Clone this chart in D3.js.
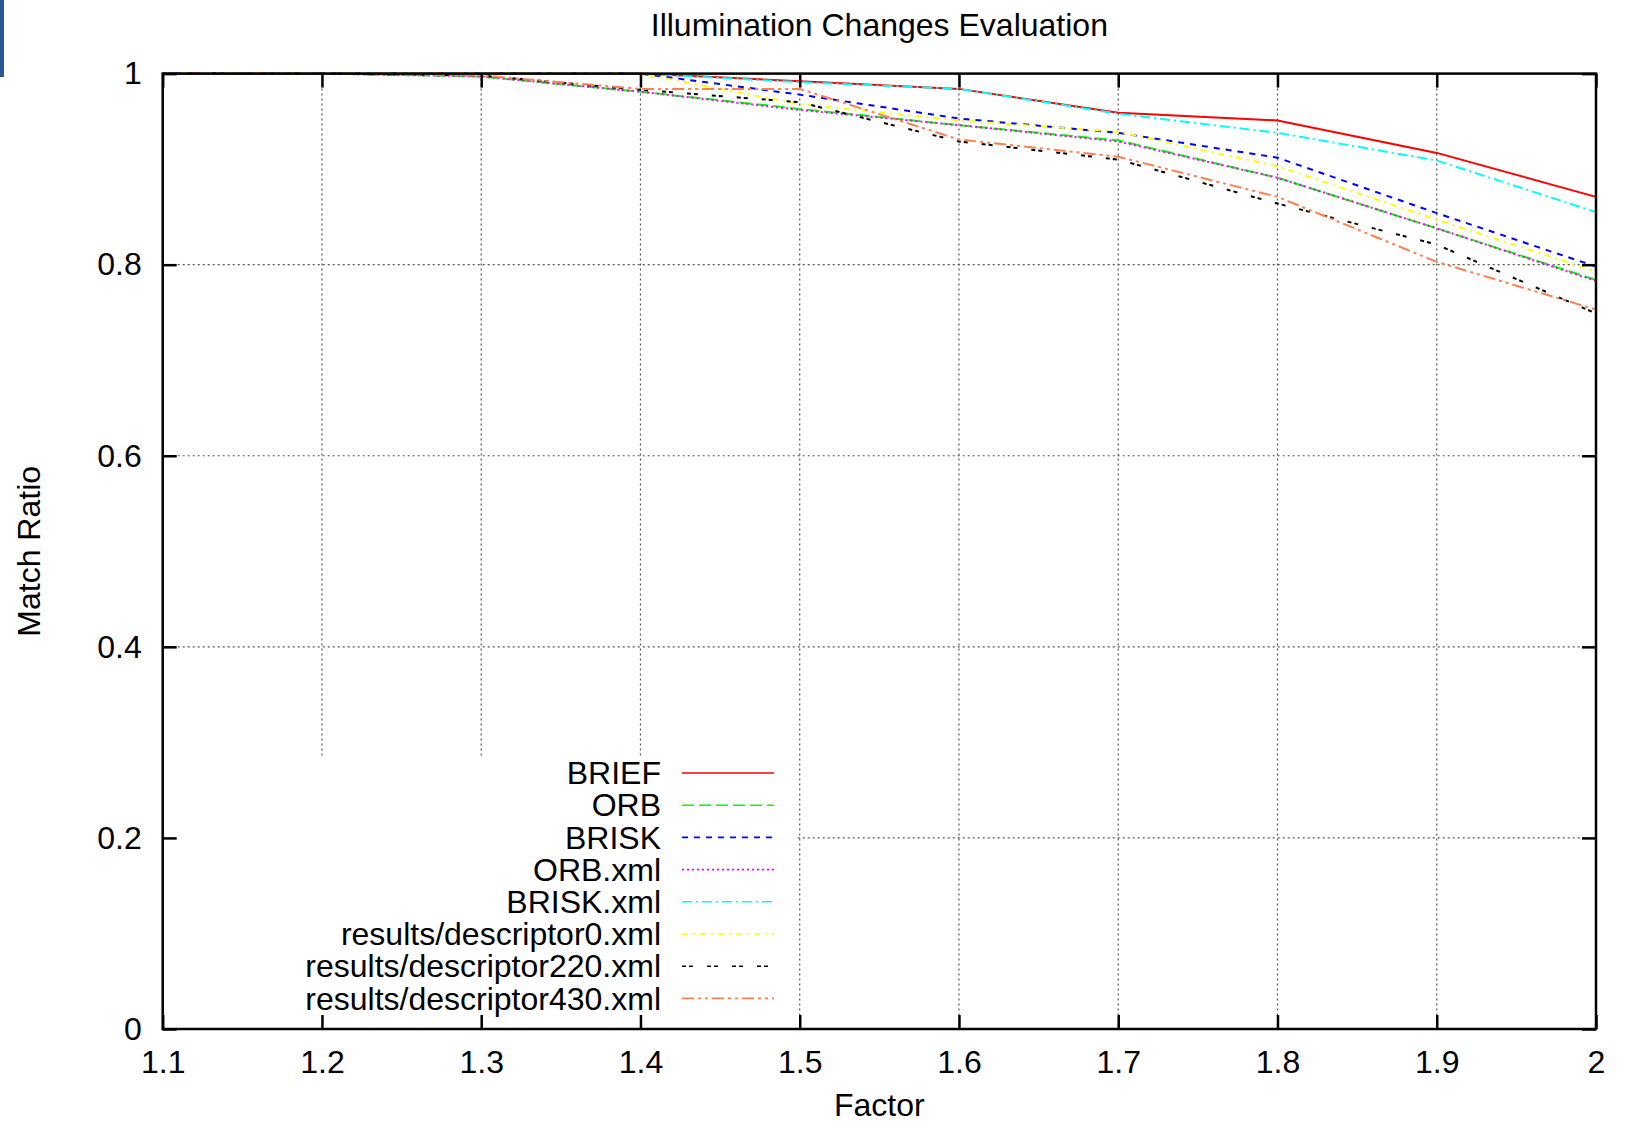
<!DOCTYPE HTML>
<html>
<head>
	<meta charset="UTF-8">
	<script src="https://d3js.org/d3.v7.min.js"></script>
	<style type="text/css">
	body { margin: 0; background: #fff; }
	svg text { font-family: "Liberation Sans", Arial, sans-serif; fill: #000; }
	.grid line { stroke: #555; stroke-width: 1.2; stroke-dasharray: 2,3; }
	.series { fill: none; stroke-width: 2; }
	</style>
	<title>Illumination Changes Evaluation</title>
</head>
<body>
<div id="chart"></div>
<script>
// data
var factors = [1.1, 1.2, 1.3, 1.4, 1.5, 1.6, 1.7, 1.8, 1.9, 2.0];
var xTicks = [1.1, 1.2, 1.3, 1.4, 1.5, 1.6, 1.7, 1.8, 1.9, 2];
var yTicks = [0, 0.2, 0.4, 0.6, 0.8, 1];

var brief       = [1, 1, 1,     1,     0.992, 0.984, 0.959, 0.951, 0.917, 0.871];
var orb         = [1, 1, 0.997, 0.981, 0.963, 0.946, 0.930, 0.891, 0.838, 0.784];
var brisk       = [1, 1, 1,     1,     0.978, 0.953, 0.938, 0.912, 0.854, 0.798];
var orbXml      = [1, 1, 0.997, 0.981, 0.962, 0.946, 0.929, 0.891, 0.838, 0.783];
var briskXml    = [1, 1, 1,     1,     0.991, 0.984, 0.958, 0.938, 0.909, 0.855];
var descriptor0   = [1, 1, 1,     1,     0.968, 0.951, 0.939, 0.903, 0.847, 0.793];
var descriptor220 = [1, 1, 0.998, 0.983, 0.970, 0.929, 0.910, 0.864, 0.821, 0.749];
var descriptor430 = [1, 1, 0.998, 0.984, 0.984, 0.931, 0.913, 0.871, 0.803, 0.753];

var seriesNames = ["BRIEF", "ORB", "BRISK", "ORB.xml", "BRISK.xml",
    "results/descriptor0.xml", "results/descriptor220.xml", "results/descriptor430.xml"];
var seriesValues = [brief, orb, brisk, orbXml, briskXml, descriptor0, descriptor220, descriptor430];
var seriesColors = ["#ff0000", "#00ff00", "#0000ff", "#ff00ff", "#00ffff", "#ffff00", "#000000", "#ff7f50"];
var seriesDash = ["none", "12,5", "6,6", "2,3", "10,4,2,4", "6,5,2,5", "4,3,4,14", "12,4,3,4,3,4"];

var W = 1625, H = 1123;
var margin = {top: 73.6, right: 29, bottom: 94, left: 162.7};
var width = W - margin.left - margin.right,
    height = H - margin.top - margin.bottom;

var svg = d3.select("#chart").append("svg")
    .attr("width", W)
    .attr("height", H);

// little blue strip in the corner
svg.append("rect")
    .attr("x", 0).attr("y", 0)
    .attr("width", 4).attr("height", 77)
    .attr("fill", "#2b5797");

var g = svg.append("g")
    .attr("transform", "translate(" + margin.left + "," + margin.top + ")");

var xScale = d3.scaleLinear().domain([1.1, 2]).range([0, width]);
var yScale = d3.scaleLinear().domain([0, 1]).range([height, 0]);

// grid
var grid = g.append("g").attr("class", "grid");
grid.selectAll(".vg").data(xTicks.slice(1, -1)).enter().append("line")
    .attr("x1", function(d) { return xScale(d); })
    .attr("x2", function(d) { return xScale(d); })
    .attr("y1", 0).attr("y2", height);
grid.selectAll(".hg").data(yTicks.slice(1, -1)).enter().append("line")
    .attr("x1", 0).attr("x2", width)
    .attr("y1", function(d) { return yScale(d); })
    .attr("y2", function(d) { return yScale(d); });

// lines
var line = d3.line()
    .x(function(d, i) { return xScale(factors[i]); })
    .y(function(d) { return yScale(d); });

seriesValues.forEach(function(vals, k) {
    g.append("path")
        .attr("class", "series")
        .attr("d", line(vals))
        .attr("stroke", seriesColors[k])
        .attr("stroke-dasharray", seriesDash[k]);
});

// key (opaque box)
var keyTop = 758 - margin.top, keyRight = 795 - margin.left;
g.append("rect")
    .attr("x", 1).attr("y", keyTop)
    .attr("width", keyRight).attr("height", height - keyTop - 1)
    .attr("fill", "#fff");

var key = g.append("g");
seriesNames.forEach(function(name, k) {
    var yy = 773 - margin.top + k * 32.2;
    key.append("text")
        .attr("x", 661 - margin.left)
        .attr("y", yy)
        .attr("dy", "0.35em")
        .attr("text-anchor", "end")
        .style("font-size", "32px")
        .text(name);
    key.append("line")
        .attr("x1", 682 - margin.left).attr("x2", 774 - margin.left)
        .attr("y1", yy).attr("y2", yy)
        .attr("stroke", seriesColors[k])
        .attr("stroke-width", 1.6)
        .attr("stroke-dasharray", seriesDash[k]);
});

// axes: ticks inward on all four sides
var tickLen = 14;
g.append("g").attr("transform", "translate(0," + height + ")")
    .call(d3.axisBottom(xScale).tickValues(xTicks).tickSizeInner(-tickLen).tickSizeOuter(0).tickPadding(21).tickFormat(d3.format("")));
g.append("g")
    .call(d3.axisTop(xScale).tickValues(xTicks).tickSizeInner(-tickLen).tickSizeOuter(0).tickFormat(""));
g.append("g")
    .call(d3.axisLeft(yScale).tickValues(yTicks).tickSizeInner(-tickLen).tickSizeOuter(0).tickPadding(21).tickFormat(d3.format("")));
g.append("g").attr("transform", "translate(" + width + ",0)")
    .call(d3.axisRight(yScale).tickValues(yTicks).tickSizeInner(-tickLen).tickSizeOuter(0).tickFormat(""));

g.selectAll(".domain").remove();
g.selectAll(".tick line").attr("stroke", "#000").attr("stroke-width", 2.5);
g.selectAll(".tick text").style("font-size", "32px").attr("fill", "#000");

// border
g.append("rect")
    .attr("width", width).attr("height", height)
    .attr("fill", "none").attr("stroke", "#000").attr("stroke-width", 2.5);

// titles
svg.append("text")
    .attr("x", margin.left + width / 2).attr("y", 25)
    .attr("dy", "0.35em").attr("text-anchor", "middle")
    .style("font-size", "32px")
    .text("Illumination Changes Evaluation");

svg.append("text")
    .attr("x", margin.left + width / 2).attr("y", 1105)
    .attr("dy", "0.35em").attr("text-anchor", "middle")
    .style("font-size", "32px")
    .text("Factor");

svg.append("text")
    .attr("transform", "translate(29," + (margin.top + height / 2) + ") rotate(-90)")
    .attr("dy", "0.35em").attr("text-anchor", "middle")
    .style("font-size", "32px")
    .text("Match Ratio");
</script>
</body>
</html>
